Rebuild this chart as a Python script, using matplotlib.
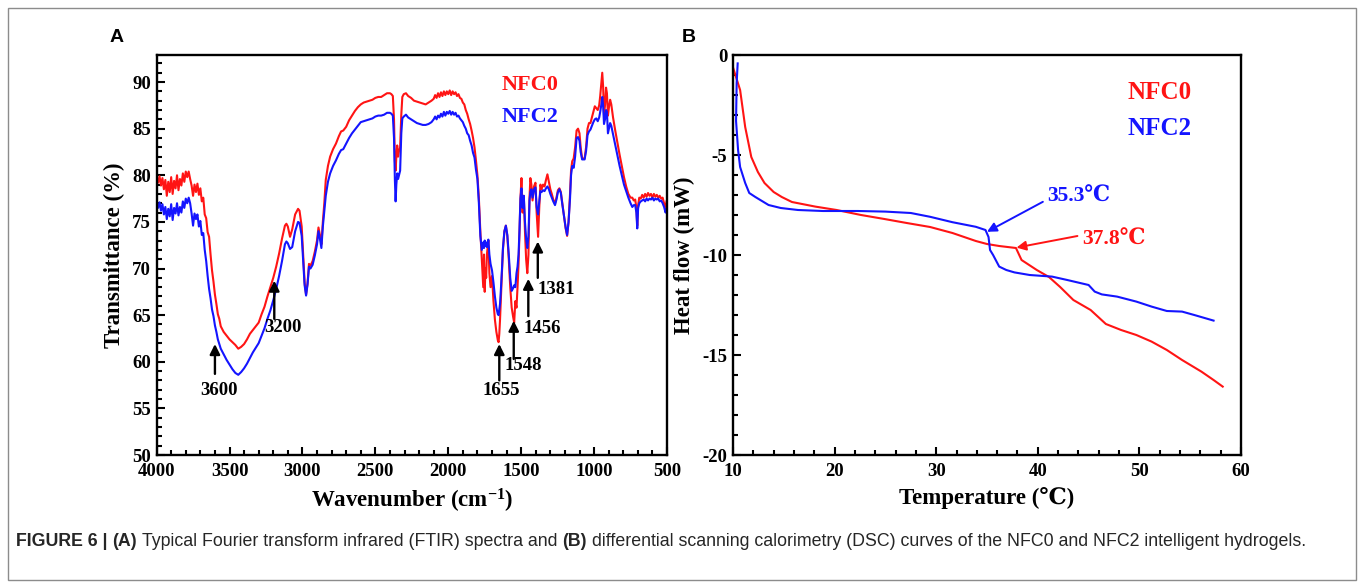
import numpy as np
import matplotlib
matplotlib.use("Agg")
import matplotlib.pyplot as plt
from matplotlib.patches import Rectangle
from matplotlib.ticker import MultipleLocator

# ---- FTIR data (panel A) ----
wavenumber = [
    4000, 3990, 3980, 3970, 3960, 3950, 3940, 3930, 3920, 3910, 3900, 3890, 3880, 3870,
    3860, 3850, 3840, 3830, 3820, 3810, 3800, 3790, 3780, 3770, 3760, 3750, 3740, 3730,
    3720, 3710, 3700, 3690, 3680, 3670, 3660, 3650, 3640, 3630, 3620, 3610, 3600, 3590,
    3580, 3570, 3560, 3540, 3520, 3500, 3480, 3460, 3440, 3420, 3400, 3380, 3360, 3340,
    3320, 3300, 3280, 3260, 3240, 3220, 3200, 3180, 3160, 3140, 3120, 3110, 3100, 3085,
    3070, 3050, 3030, 3020, 3005, 2995, 2985, 2975, 2965, 2955, 2945, 2930, 2915, 2900,
    2890, 2880, 2870, 2860, 2850, 2840, 2825, 2810, 2790, 2770, 2750, 2735, 2720, 2700,
    2680, 2660, 2640, 2620, 2600, 2580, 2560, 2540, 2520, 2500, 2480, 2460, 2440, 2420,
    2400, 2390, 2380, 2372, 2366, 2361, 2356, 2350, 2344, 2338, 2330, 2322, 2315, 2305,
    2290, 2275, 2255, 2235, 2215, 2195, 2175, 2155, 2135, 2115, 2100, 2090, 2080, 2070,
    2060, 2050, 2040, 2030, 2020, 2010, 2000, 1990, 1980, 1970, 1960, 1950, 1940, 1930,
    1920, 1910, 1900, 1890, 1880, 1870, 1860, 1850, 1840, 1830, 1820, 1810, 1800, 1790,
    1780, 1770, 1760, 1755, 1750, 1745, 1740, 1735, 1725, 1718, 1710, 1700, 1690, 1680,
    1670, 1660, 1655, 1650, 1645, 1640, 1632, 1625, 1615, 1605, 1595, 1585, 1575, 1565,
    1555, 1548, 1540, 1532, 1525, 1518, 1512, 1505, 1498, 1490, 1482, 1474, 1466, 1458,
    1450, 1443, 1437, 1430, 1422, 1412, 1402, 1394, 1384, 1376, 1368, 1360, 1350, 1340,
    1330, 1320, 1310, 1300, 1290, 1280, 1268, 1258, 1248, 1238, 1228, 1218, 1205, 1195,
    1185, 1175, 1165, 1158, 1150, 1140, 1130, 1120, 1110, 1100, 1092, 1082, 1065, 1055,
    1045, 1035, 1025, 1015, 1005, 995, 985, 975, 965, 958, 950, 944, 938, 932,
    925, 918, 912, 905, 898, 890, 882, 870, 855, 840, 825, 810, 795, 780,
    765, 750, 738, 728, 718, 710, 704, 698, 690, 680, 670, 660, 650, 640,
    630, 620, 610, 600, 590, 580, 570, 560, 550, 540, 530, 520, 510, 503,
]
nfc0_trans = [
    79.6, 79.2, 79.9, 78.9, 79.7, 78.5, 79.5, 77.8, 79.3, 78.2, 79.8, 78.0, 79.4, 78.6,
    80.0, 78.4, 79.6, 78.9, 80.2, 79.3, 80.4, 79.8, 80.4, 79.6, 78.9, 77.8, 79.0, 78.2,
    79.1, 77.9, 78.6, 77.2, 77.6, 75.8, 75.4, 73.9, 73.4, 71.5, 69.8, 68.6, 67.2, 66.2,
    65.1, 64.6, 63.8, 63.2, 62.8, 62.4, 62.1, 61.8, 61.4, 61.6, 61.9, 62.4, 63.0, 63.4,
    63.8, 64.2, 65.1, 65.9, 67.0, 68.0, 69.0, 70.2, 71.6, 73.2, 74.6, 74.8, 74.5, 73.4,
    74.2, 75.8, 76.4, 76.2, 74.5, 71.5, 68.5, 67.2, 68.4, 70.5, 70.3, 70.8, 71.8, 73.0,
    74.4, 73.6, 72.6, 75.0, 77.0, 79.5, 81.0, 82.0, 82.8, 83.4, 84.2, 84.7, 84.8, 85.2,
    85.9, 86.4, 86.9, 87.3, 87.6, 87.8, 87.9, 88.0, 88.1, 88.3, 88.4, 88.4, 88.6, 88.8,
    88.8, 88.7, 88.5, 86.0, 81.5, 80.5, 82.0, 83.2, 82.0, 82.6, 83.0, 86.5, 88.4, 88.7,
    88.8, 88.5, 88.3, 88.0, 87.9, 87.8, 87.7, 87.6, 87.8, 88.0, 88.2, 88.6, 88.3, 88.8,
    88.4, 88.9, 88.5, 89.0, 88.6, 89.0, 88.7, 89.1, 88.6, 89.0, 88.7, 88.9, 88.5, 88.7,
    88.3, 88.2, 87.8, 87.6, 87.0, 86.6, 86.0, 85.5, 84.8, 84.0, 83.0, 81.6, 80.0, 77.5,
    74.0, 71.0, 68.0, 71.5, 67.5, 70.0, 69.0, 71.5, 73.0, 69.5, 68.0, 69.2, 66.5, 64.5,
    63.2, 62.3, 62.1, 63.0, 64.5, 66.5, 69.5, 72.0, 74.0, 74.6, 73.5, 71.0, 68.0, 65.8,
    64.8, 64.2, 66.5, 65.8, 68.0, 70.5, 73.5, 77.5, 79.7, 76.0, 77.8, 74.0, 71.0, 69.5,
    71.5, 77.5, 79.7, 79.0, 77.3, 78.8, 79.2, 76.0, 73.4, 76.5, 79.0, 78.5, 79.0, 78.8,
    79.5, 80.1, 79.3, 78.5, 78.0, 77.4, 77.0, 77.6, 78.4, 78.6, 78.2, 77.0, 75.5, 74.3,
    73.5, 75.0, 78.0, 80.5, 81.5, 81.8, 83.0, 84.8, 85.0, 84.5, 83.0, 81.8, 81.8, 83.0,
    85.0, 85.6, 85.6, 86.2, 86.8, 87.4, 87.2, 87.0, 87.5, 88.5, 90.0, 91.0, 89.5, 86.5,
    87.5, 89.4, 88.8, 86.4, 87.3, 88.1, 87.6, 86.2, 84.8, 83.5, 82.2, 81.0, 79.8, 78.8,
    78.0, 77.6, 77.6, 77.3, 77.4, 76.5, 74.6, 76.8, 77.6, 77.5, 77.9, 77.6, 78.0, 77.7,
    78.1, 77.8, 78.0, 77.6, 78.0, 77.7, 77.9, 77.6, 77.8, 77.5, 77.6, 77.0, 76.6, 77.2,
]
nfc2_trans = [
    76.9, 76.5, 77.1, 76.2, 76.9, 75.8, 76.6, 75.3, 76.4, 75.6, 76.9, 75.2, 76.5, 75.9,
    77.0, 75.7, 76.6, 76.0, 77.2, 76.5, 77.5, 77.0, 77.6, 77.0, 75.9, 74.6, 75.9, 75.3,
    75.8, 74.5, 75.1, 73.6, 73.8, 72.0, 70.8, 69.2, 67.8, 66.8, 65.6, 64.9, 63.9, 63.2,
    62.4, 61.9, 61.4, 60.8, 60.2, 59.7, 59.2, 58.8, 58.6, 58.9, 59.3, 59.8, 60.4, 61.0,
    61.5, 62.0, 62.8, 63.6, 64.6, 65.5, 66.6, 67.8, 69.2, 70.8, 72.6, 72.9, 72.7, 72.1,
    72.3, 74.0, 75.0, 74.9, 73.5, 70.8, 68.2, 67.1, 68.3, 70.2, 70.0, 70.4, 71.4, 72.6,
    74.0, 73.2, 72.2, 74.5, 76.2, 77.8, 79.3, 80.2, 81.0, 81.6, 82.3, 82.7, 82.8, 83.4,
    84.0, 84.5, 84.9, 85.3, 85.7, 85.8, 85.9, 86.0, 86.1, 86.3, 86.4, 86.4, 86.5, 86.7,
    86.7, 86.6, 86.4, 84.0, 79.5, 77.2, 79.0, 80.2, 79.6, 80.0, 80.5, 84.5, 86.1, 86.3,
    86.5, 86.2, 86.0, 85.8, 85.6, 85.5, 85.4, 85.4, 85.5, 85.7, 86.0, 86.3, 86.0, 86.4,
    86.2, 86.6, 86.3, 86.8, 86.4, 86.8, 86.6, 86.9, 86.5, 86.8, 86.5, 86.7, 86.3, 86.4,
    86.1, 85.9, 85.7, 85.3, 85.0, 84.5, 84.3, 83.7, 83.2, 82.4, 81.9, 80.6, 79.6, 77.0,
    73.5, 72.0, 72.8, 72.2, 73.0, 72.4, 72.8, 72.3, 73.1, 71.5, 70.5, 69.8, 68.5, 67.0,
    65.8, 65.1, 65.0, 65.6, 66.2, 67.5, 69.8, 72.2, 74.0, 74.6, 73.6, 71.5, 69.0, 67.6,
    67.9, 68.2, 68.0, 69.5, 70.2, 71.5, 74.0, 77.5, 78.6, 76.5, 77.8, 75.0, 73.2, 72.2,
    73.5, 77.3, 78.2, 78.5, 77.6, 78.5, 78.7, 76.6, 75.8, 77.2, 78.3, 78.2, 78.4, 78.3,
    78.6, 78.8, 78.5, 78.0, 77.6, 77.2, 76.8, 77.4, 78.2, 78.5, 78.1, 76.9, 75.5, 74.4,
    73.6, 75.0, 77.5, 80.0, 81.0, 80.8, 82.0, 84.0, 84.1, 83.7, 82.5, 81.7, 81.7, 82.6,
    84.3, 84.7, 84.9, 85.3, 85.7, 86.0, 86.1, 85.8, 86.2, 86.8, 87.6, 88.4, 87.5, 85.5,
    86.0, 87.0, 86.8, 84.5, 85.0, 85.6, 85.3, 84.4, 83.3, 82.2, 81.0, 80.0, 79.0, 78.3,
    77.6, 77.0, 76.6, 76.8, 76.8, 76.0, 74.3, 76.5, 77.0, 77.2, 77.3, 77.4, 77.2, 77.5,
    77.3, 77.5, 77.4, 77.6, 77.3, 77.5, 77.4, 77.5, 77.2, 77.3, 77.0, 76.6, 76.0, 76.4,
]

# peak markers: (label, wavenumber, arrow tail, arrow tip, label x, label y)
ftir_marks = [
    ("3600", 3600, 58.7, 61.9, 3574, 56.9),
    ("3200", 3193, 64.6, 68.7, 3133, 63.7),
    ("1655", 1650, 58.0, 61.9, 1635, 56.9),
    ("1548", 1551, 60.3, 64.4, 1486, 59.6),
    ("1456", 1451, 64.9, 68.9, 1354, 63.6),
    ("1381", 1386, 69.0, 72.9, 1262, 67.8),
]

# ---- DSC data (panel B) ----
nfc0_temp = [10.03, 10.7, 11.2, 11.8, 12.45, 13.1, 14.0, 14.8, 15.8, 18.1, 20.2, 22.6, 24.9,
             27.1, 29.4, 31.6, 33.9, 35.0, 36.2, 37.85, 38.4, 39.9, 41.1, 42.2, 43.5,
             45.2, 46.7, 48.2, 49.7, 51.2, 52.7, 54.2, 56.1, 57.3, 58.2]
nfc0_heat = [-0.67, -1.75, -3.6, -5.1, -5.85, -6.4, -6.85, -7.1, -7.35, -7.58, -7.75, -8.0, -8.2,
             -8.4, -8.6, -8.9, -9.3, -9.45, -9.55, -9.65, -10.25, -10.75, -11.1, -11.6, -12.25,
             -12.75, -13.45, -13.75, -14.0, -14.33, -14.75, -15.25, -15.83, -16.25, -16.58]
nfc2_temp = [10.46, 10.36, 10.3, 10.5, 10.7, 11.2, 11.6, 12.2, 13.5, 14.7, 16.4, 18.85, 22.3,
             25.0, 27.5, 29.4, 31.6, 33.9, 34.85, 35.15, 35.3, 35.6, 36.2, 36.9, 37.7, 39.2,
             41.4, 42.9, 45.0, 45.6, 46.3, 47.8, 49.7, 51.2, 52.7, 54.2, 55.4, 57.3]
nfc2_heat = [-0.42, -1.4, -3.3, -4.75, -5.6, -6.4, -6.9, -7.1, -7.5, -7.65, -7.75, -7.8, -7.8,
             -7.83, -7.9, -8.09, -8.36, -8.59, -8.75, -9.1, -9.75, -10.0, -10.58, -10.75, -10.87,
             -11.0, -11.08, -11.25, -11.5, -11.83, -11.97, -12.08, -12.33, -12.58, -12.8, -12.83,
             -13.0, -13.28]

RED = '#ff1414'
BLUE = '#1414ff'
W, H = 1360, 587

plt.rcParams['font.family'] = ['Liberation Serif', 'DejaVu Serif', 'Noto Sans CJK SC']
plt.rcParams['font.weight'] = 'bold'
plt.rcParams['axes.unicode_minus'] = False
plt.rcParams['mathtext.fontset'] = 'custom'
plt.rcParams['mathtext.rm'] = 'Liberation Serif:bold'
plt.rcParams['mathtext.bf'] = 'Liberation Serif:bold'
plt.rcParams['mathtext.it'] = 'Liberation Serif:bold'

fig = plt.figure(figsize=(W / 100, H / 100), dpi=100)


def px_box(x0, x1, y0, y1):
    return [x0 / W, 1 - y1 / H, (x1 - x0) / W, (y1 - y0) / H]


def style_axes(ax):
    for s in ax.spines.values():
        s.set_linewidth(1.7)
    ax.tick_params(which='both', direction='in', width=1.5, labelsize=13.5)
    ax.tick_params(axis='x', pad=6)
    ax.tick_params(axis='y', pad=4)
    ax.tick_params(which='major', length=6)
    ax.tick_params(which='minor', length=3.5)
    for lab in ax.get_xticklabels() + ax.get_yticklabels():
        lab.set_fontweight('bold')


# ---- Panel A ----
axA = fig.add_axes(px_box(156.6, 667, 55, 455))
axA.plot(wavenumber, nfc0_trans, color=RED, lw=1.5)
axA.plot(wavenumber, nfc2_trans, color=BLUE, lw=1.5)
axA.set_xlim(4000, 500)
axA.set_ylim(50, 92.9)
axA.xaxis.set_major_locator(MultipleLocator(500))
axA.xaxis.set_minor_locator(MultipleLocator(100))
axA.yaxis.set_major_locator(MultipleLocator(5))
axA.yaxis.set_minor_locator(MultipleLocator(1))
style_axes(axA)
axA.set_xlabel(r'Wavenumber (cm$^{\mathbf{-1}}$)', fontsize=16.5, fontweight='bold', labelpad=5)
axA.set_ylabel('Transmittance (%)', fontsize=16.5, fontweight='bold', labelpad=5)

for lab, wn, tail, tip, lx, ly in ftir_marks:
    axA.annotate('', xy=(wn, tip), xytext=(wn, tail),
                 arrowprops=dict(arrowstyle='-|>', color='black', lw=1.7,
                                 mutation_scale=15, shrinkA=0, shrinkB=0))
    axA.text(lx, ly, lab, ha='center', va='center', fontsize=13.5, fontweight='bold')

axA.text(1439, 89.7, 'NFC0', color=RED, ha='center', va='center', fontsize=16, fontweight='bold')
axA.text(1439, 86.2, 'NFC2', color=BLUE, ha='center', va='center', fontsize=16, fontweight='bold')

# ---- Panel B ----
axB = fig.add_axes(px_box(733, 1241, 55, 455))
axB.plot(nfc0_temp, nfc0_heat, color=RED, lw=1.5)
axB.plot(nfc2_temp, nfc2_heat, color=BLUE, lw=1.5)
axB.set_xlim(10, 60)
axB.set_ylim(-20, 0)
axB.xaxis.set_major_locator(MultipleLocator(10))
axB.xaxis.set_minor_locator(MultipleLocator(2))
axB.yaxis.set_major_locator(MultipleLocator(5))
axB.yaxis.set_minor_locator(MultipleLocator(1))
style_axes(axB)
axB.set_xlabel('Temperature (\u2103)', fontsize=16.5, fontweight='bold', labelpad=5)
axB.set_ylabel('Heat flow (mW)', fontsize=16.5, fontweight='bold', labelpad=5)

axB.annotate('', xy=(35.0, -8.84), xytext=(40.5, -7.34),
             arrowprops=dict(arrowstyle='-|>', color=BLUE, lw=1.4, mutation_scale=14,
                             shrinkA=0, shrinkB=0))
axB.text(40.9, -7.1, '35.3\u2103', color=BLUE, ha='left', va='center', fontsize=15.5)
axB.annotate('', xy=(37.9, -9.63), xytext=(43.9, -9.05),
             arrowprops=dict(arrowstyle='-|>', color=RED, lw=1.4, mutation_scale=14,
                             shrinkA=0, shrinkB=0))
axB.text(44.4, -9.25, '37.8\u2103', color=RED, ha='left', va='center', fontsize=15.5)
axB.text(52, -1.86, 'NFC0', color=RED, ha='center', va='center', fontsize=18, fontweight='bold')
axB.text(52, -3.69, 'NFC2', color=BLUE, ha='center', va='center', fontsize=18, fontweight='bold')

# panel letters
fig.text(117 / W, 1 - 37 / H, 'A', family='Liberation Sans', fontsize=14, fontweight='bold',
         ha='center', va='center')
fig.text(689 / W, 1 - 37 / H, 'B', family='Liberation Sans', fontsize=14, fontweight='bold',
         ha='center', va='center')

# frame around the figure
fig.patches.append(Rectangle((8 / W, 1 - 580 / H), 1348 / W, 572 / H, transform=fig.transFigure,
                             fill=False, edgecolor='#8c8c8c', lw=1.0))

# caption, laid out piece by piece so bold and regular parts sit side by side
caption = [
    ('FIGURE 6 |', 'bold'),
    ('(A)', 'bold'),
    ('Typical Fourier transform infrared (FTIR) spectra and', 'normal'),
    ('(B)', 'bold'),
    ('differential scanning calorimetry (DSC) curves of the NFC0 and NFC2 intelligent hydrogels.', 'normal'),
]
renderer = fig.canvas.get_renderer()


def layout_caption(size):
    texts = []
    x = 16.0
    probe = fig.text(0, 0, 'a a', family='Liberation Sans', fontsize=size)
    probe2 = fig.text(0, 0, 'aa', family='Liberation Sans', fontsize=size)
    gap = probe.get_window_extent(renderer).width - probe2.get_window_extent(renderer).width
    probe.remove()
    probe2.remove()
    for s, wt in caption:
        t = fig.text(x / W, 1 - 542 / H, s, family='Liberation Sans', fontsize=size,
                     fontweight=wt, color='#262626', ha='left', va='center')
        x += t.get_window_extent(renderer).width + gap
        texts.append(t)
    return texts, x - gap


texts, end = layout_caption(12)
scale = (1312 - 16) / (end - 16)
for t in texts:
    t.remove()
texts, end = layout_caption(12 * scale)

fig.savefig('out.png', dpi=100)
